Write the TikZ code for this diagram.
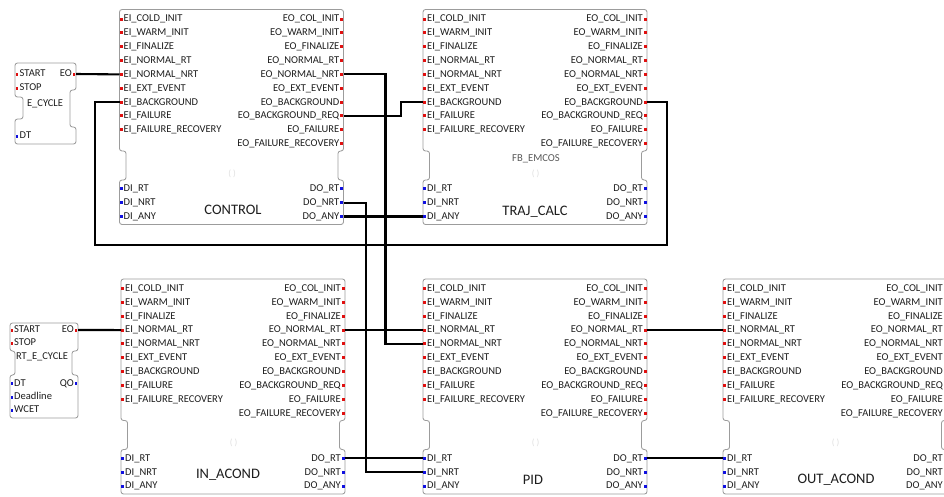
\documentclass[tikz,border=0pt]{standalone}
\usepackage{fontspec}
\setmainfont{Carlito}
\definecolor{evred}{HTML}{E01010}
\definecolor{dtblue}{HTML}{1010E0}
\definecolor{fbgray}{HTML}{9C9C9C}
\definecolor{txt}{HTML}{1E1E1E}
\tikzset{
  fbline/.style={draw=fbgray, line width=0.85pt, rounded corners=2.5pt},
  plab/.style={inner sep=0pt, text height=7.4pt, text depth=1.6pt, font=\fontsize{10.5}{11}\selectfont, text=txt},
  biglab/.style={inner sep=0pt, font=\fontsize{14.5}{15}\selectfont, text=txt},
  typelab/.style={inner sep=0pt, font=\fontsize{10.6}{11}\selectfont, text=black!65},
  faint/.style={inner sep=0pt, font=\fontsize{9}{10}\selectfont, text=black!12},
  wire/.style={draw=black, line width=2.1pt},
}
% event / data port markers
\newcommand\evmark[2]{\fill[evred] ({#1-1.4},{#2-1.5}) rectangle ({#1+1.4},{#2+1.5});}
\newcommand\dtmark[2]{\fill[dtblue] ({#1-1.4},{#2-1.5}) rectangle ({#1+1.4},{#2+1.5});}
% function block: id, left, top, label, label x, label y
\newcommand\fbblock[6]{%
\begin{scope}[shift={(#2,#3)}]
  \draw[fbline] (0,0) -- (224,0) -- (224,141.5) -- (218.5,141.5) -- (218.5,170.5) -- (224,170.5)
     -- (224,215) -- (0,215) -- (0,170.5) -- (6.5,170.5) -- (6.5,141.5) -- (0,141.5) -- cycle;
  \foreach \n [count=\i] in {COLD\_INIT,WARM\_INIT,FINALIZE,NORMAL\_RT,NORMAL\_NRT,EXT\_EVENT,BACKGROUND,FAILURE,FAILURE\_RECOVERY}{
    \coordinate (#1-ei\i) at (0,{9.5+13.85*(\i-1)});
    \evmark{1.8}{9.5+13.85*(\i-1)}
    \node[plab,anchor=west] (#1-ei\i-t) at (4,{9.5+13.85*(\i-1)}) {EI\_\n};
  }
  \foreach \n [count=\i] in {COL\_INIT,WARM\_INIT,FINALIZE,NORMAL\_RT,NORMAL\_NRT,EXT\_EVENT,BACKGROUND,BACKGROUND\_REQ,FAILURE,FAILURE\_RECOVERY}{
    \coordinate (#1-eo\i) at (224,{9.5+13.85*(\i-1)});
    \evmark{222.2}{9.5+13.85*(\i-1)}
    \node[plab,anchor=east] (#1-eo\i-t) at (220,{9.5+13.85*(\i-1)}) {EO\_\n};
  }
  \foreach \n [count=\i] in {RT,NRT,ANY}{
    \coordinate (#1-di\i) at (0,{179.3+13.85*(\i-1)});
    \dtmark{1.8}{179.3+13.85*(\i-1)}
    \node[plab,anchor=west] (#1-di\i-t) at (4,{179.3+13.85*(\i-1)}) {DI\_\n};
    \coordinate (#1-do\i) at (224,{179.3+13.85*(\i-1)});
    \dtmark{222.2}{179.3+13.85*(\i-1)}
    \node[plab,anchor=east] (#1-do\i-t) at (220,{179.3+13.85*(\i-1)}) {DO\_\n};
  }
  \node[faint] (#1-par) at (112.5,164) {( )};
  \node[biglab] (#1-name) at (#5,#6) {#4};
\end{scope}}

\begin{document}
\begin{tikzpicture}[x=1pt,y=-1pt]
\clip (0,0) rectangle (944,496);
\fill[white] (0,0) rectangle (944,496);

% ---- function blocks ----
\fbblock{ctrl}{119.5}{9.5}{CONTROL}{113.5}{200}
\fbblock{traj}{423}{9.5}{TRAJ\_CALC}{112}{202}
\node[typelab] (traj-type) at (536,158.5) {FB\_EMCOS};
\fbblock{inac}{121}{279}{IN\_ACOND}{107}{196}
\fbblock{pid}{423}{279}{PID}{110}{201}
\fbblock{outa}{723}{279}{OUT\_ACOND}{113}{201}

% ---- E_CYCLE ----
\draw[fbline] (15,63) -- (76,63) -- (76,90) -- (70,90) -- (70,127) -- (76,127) -- (76,144)
   -- (15,144) -- (15,119) -- (23,119) -- (23,97) -- (15,97) -- cycle;
\coordinate (ecyc-start) at (15,74);
\coordinate (ecyc-stop) at (15,88);
\coordinate (ecyc-eo) at (76,74);
\coordinate (ecyc-dt) at (15,136);
\evmark{17}{74} \evmark{17}{88} \evmark{74}{74} \dtmark{17}{136}
\node[plab,anchor=west] (ecyc-start-t) at (19.5,74) {START};
\node[plab,anchor=west] (ecyc-stop-t) at (19.5,88) {STOP};
\node[plab,anchor=east] (ecyc-eo-t) at (72,74) {EO};
\node[plab,anchor=west] (ecyc-dt-t) at (19.5,136) {DT};
\node[plab] (ecyc-name) at (45,104) {E\_CYCLE};

% ---- RT_E_CYCLE ----
\draw[fbline] (10,323) -- (78,323) -- (78,351) -- (72,351) -- (72,375) -- (78,375) -- (78,418)
   -- (10,418) -- (10,375) -- (15,375) -- (15,351) -- (10,351) -- cycle;
\coordinate (rtec-start) at (10,330);
\coordinate (rtec-eo) at (78,330);
\evmark{12}{330} \evmark{12}{343} \evmark{76}{330}
\dtmark{12}{383.5} \dtmark{12}{397} \dtmark{12}{410} \dtmark{76}{383.5}
\node[plab,anchor=west] (rtec-start-t) at (14,330) {START};
\node[plab,anchor=west] (rtec-stop-t) at (14,343) {STOP};
\node[plab,anchor=east] (rtec-eo-t) at (74,330) {EO};
\node[plab] (rtec-name) at (42,357) {RT\_E\_CYCLE};
\node[plab,anchor=west] (rtec-dt-t) at (14,383.5) {DT};
\node[plab,anchor=west] (rtec-dl-t) at (14,397) {Deadline};
\node[plab,anchor=west] (rtec-wc-t) at (14,410) {WCET};
\node[plab,anchor=east] (rtec-qo-t) at (74,383.5) {QO};

% ---- bend coordinates ----
\coordinate (xA) at (385.5,0);
\coordinate (xB) at (366,0);
\coordinate (xC) at (401,0);
\coordinate (loopR) at (667,245);
\coordinate (loopL) at (95,245);

% ---- connections ----
\draw[wire] (ecyc-eo) -- (ctrl-ei5);
\draw[wire] (ctrl-eo5) -- (ctrl-eo5 -| xA) -- (pid-ei5 -| xA) -- (pid-ei5);
\draw[wire] (ctrl-do2) -- (ctrl-do2 -| xB) -- (pid-di2 -| xB) -- (pid-di2);
\draw[wire] (ctrl-eo8) -- (ctrl-eo8 -| xC) -- (traj-ei7 -| xC) -- (traj-ei7);
\draw[wire] (ctrl-do3) -- (traj-di3);
\draw[wire] (traj-eo7) -| (loopR) -- (loopL) |- (ctrl-ei7);
\draw[wire] (rtec-eo) -- (inac-ei4);
\draw[wire] (inac-eo4) -- (pid-ei4);
\draw[wire] (inac-do1) -- (pid-di1);
\draw[wire] (pid-eo4) -- (outa-ei4);
\draw[wire] (pid-do1) -- (outa-di1);
\end{tikzpicture}
\end{document}
